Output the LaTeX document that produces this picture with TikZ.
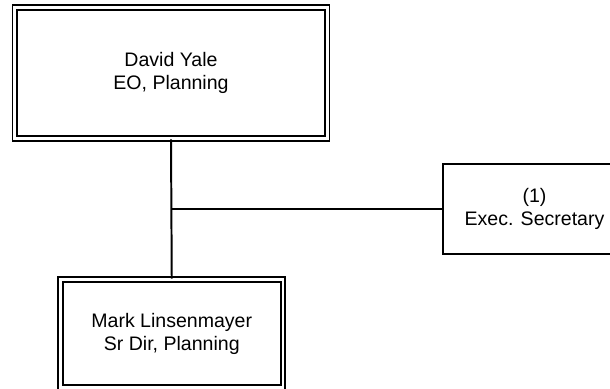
\documentclass[tikz,border=0pt]{standalone}
\usepackage{fontspec}
\setmainfont{Liberation Sans}
\usepackage{tikz}
\usetikzlibrary{positioning}

\begin{document}
\begin{tikzpicture}[
  x=0.025cm, y=-0.025cm,
  font=\fontsize{13.9}{16.3}\selectfont,
  mgr/.style={draw, double, line width=1.1pt, double distance=2.1pt, align=center,
              inner sep=0pt},
  staff/.style={draw, line width=1.3pt, align=center, inner sep=0pt},
  link/.style={line width=1.4pt}
]
\useasboundingbox (0,0) rectangle (610,388);
\clip (0,0) rectangle (610,388);
\node[mgr, minimum width=7.8cm, minimum height=3.275cm] (yale) at (171,73) {David Yale\\EO, Planning};
\node[mgr, minimum width=5.56cm, minimum height=2.7cm] (mark) at (171.75,333.5) {Mark Linsenmayer\\Sr Dir, Planning};
\node[staff, minimum width=4.575cm, minimum height=2.25cm] (exec) at (534.5,209) {(1)\\Exec. Secretary};

\coordinate (split) at (yale.south |- exec.west);
\draw[link] (yale.south) -- (mark.north);
\draw[link] (split) -- (exec.west);
\end{tikzpicture}
\end{document}
